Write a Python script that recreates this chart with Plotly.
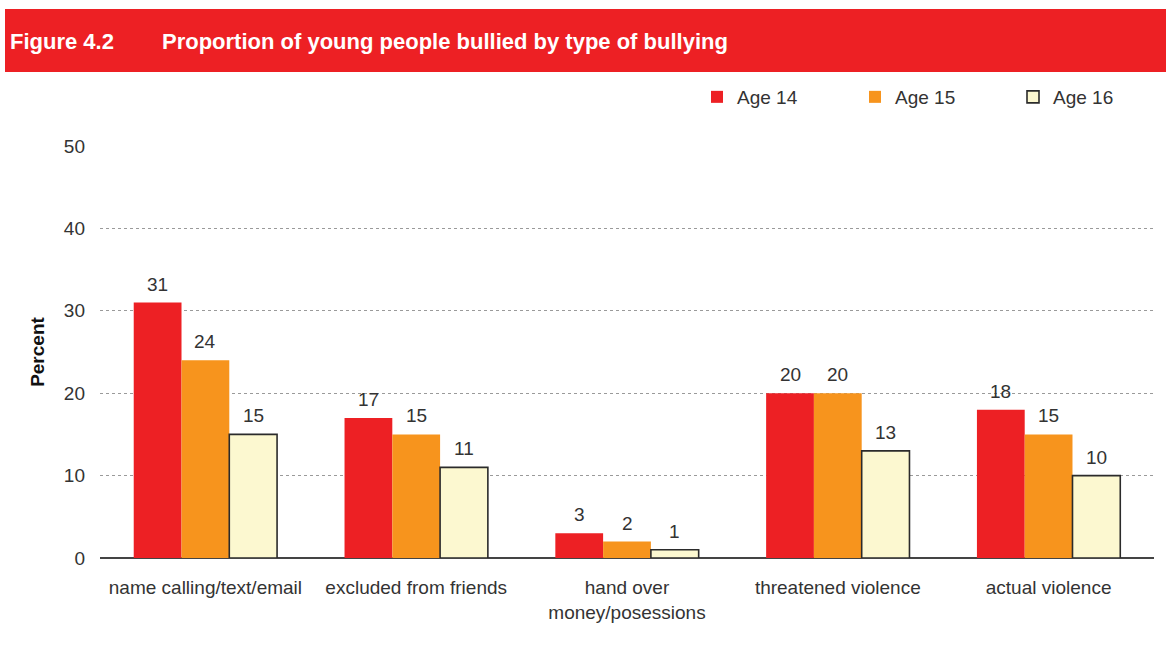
import plotly.graph_objects as go

# Bullying types and percentage of young people bullied, by age
categories = [
    "name calling/text/email",
    "excluded from friends",
    "hand over<br>money/posessions",
    "threatened violence",
    "actual violence",
]
age14 = [31, 17, 3, 20, 18]
age15 = [24, 15, 2, 20, 15]
age16 = [15, 11, 1, 13, 10]
series_names = ["Age 14", "Age 15", "Age 16"]
y_ticks = [0, 10, 20, 30, 40, 50]

RED = "#ED2024"
ORANGE = "#F7941D"
CREAM = "#FCF8D0"
TEXT = "#333333"
FONT = "Liberation Sans, Arial, sans-serif"
FS = 19

W, H = 1168, 646
L, R, T, B = 100, 14, 146, 88
plot_w = W - L - R
plot_h = H - T - B


def px_x(px):
    return (px - L) / plot_w


def px_y(py):
    # py measured from the top of the page
    return (H - py - B) / plot_h


fig = go.Figure()
series = [age14, age15, age16]
colors = [RED, ORANGE, CREAM]
outlines = [dict(width=0), dict(width=0), dict(color="#2b2b2b", width=1.6)]
for name, vals, col, ln in zip(series_names, series, colors, outlines):
    fig.add_trace(go.Bar(
        name=name, x=categories, y=vals,
        marker=dict(color=col, line=ln),
    ))

# value labels floating above each bar
group_w = plot_w / len(categories)
bargap = 0.32
bar_w = group_w * (1 - bargap) / 3
annotations = []
for i, vals in enumerate(series):
    for c, v in zip(categories, vals):
        annotations.append(dict(
            x=c, y=v, xref="x", yref="y", text=str(v), showarrow=False,
            xshift=(i - 1) * bar_w, yshift=6, yanchor="bottom",
            font=dict(family=FONT, size=FS, color=TEXT),
        ))

# header band text
HEAD_FONT = dict(family=FONT, size=22, color="white")
annotations.append(dict(
    x=px_x(8), y=px_y(41), xref="paper", yref="paper", text="<b>Figure 4.2</b>",
    showarrow=False, xanchor="left", yanchor="middle", font=HEAD_FONT,
))
annotations.append(dict(
    x=px_x(160), y=px_y(41), xref="paper", yref="paper",
    text="<b>Proportion of young people bullied by type of bullying</b>",
    showarrow=False, xanchor="left", yanchor="middle", font=HEAD_FONT,
))

fig.update_layout(
    width=W, height=H,
    margin=dict(l=L, r=R, t=T, b=B, autoexpand=False),
    paper_bgcolor="white", plot_bgcolor="white",
    barmode="group", bargap=bargap, bargroupgap=0,
    font=dict(family=FONT, size=FS, color=TEXT),
    showlegend=True,
    legend=dict(
        orientation="h", xref="container", yref="container",
        x=697 / W, y=(H - 97) / H,
        xanchor="left", yanchor="middle",
        entrywidth=113, entrywidthmode="pixels", itemwidth=30,
        font=dict(family=FONT, size=FS, color=TEXT), traceorder="normal",
        bgcolor="rgba(0,0,0,0)",
    ),
    annotations=annotations,
    shapes=[dict(
        type="rect", xref="paper", yref="paper",
        x0=px_x(5), x1=px_x(1166), y0=px_y(72), y1=px_y(9),
        fillcolor=RED, line=dict(width=0), layer="below",
    )],
    xaxis=dict(
        showgrid=False, showline=False, ticks="", zeroline=False,
        tickangle=0, automargin=False, ticklabelstandoff=16,
        tickfont=dict(family=FONT, size=FS, color=TEXT),
    ),
    yaxis=dict(
        range=[0, 50], tickvals=y_ticks, showgrid=True,
        gridcolor="#9a9a9a", griddash="dot", gridwidth=1,
        zeroline=True, zerolinecolor="#444444", zerolinewidth=2,
        showline=False, ticks="", ticklabelstandoff=14, automargin=False,
        tickfont=dict(family=FONT, size=FS, color=TEXT),
        title=dict(text="<b>Percent</b>", standoff=14,
                   font=dict(family=FONT, size=FS, color="#111111")),
    ),
)

fig.write_html("out.html")
